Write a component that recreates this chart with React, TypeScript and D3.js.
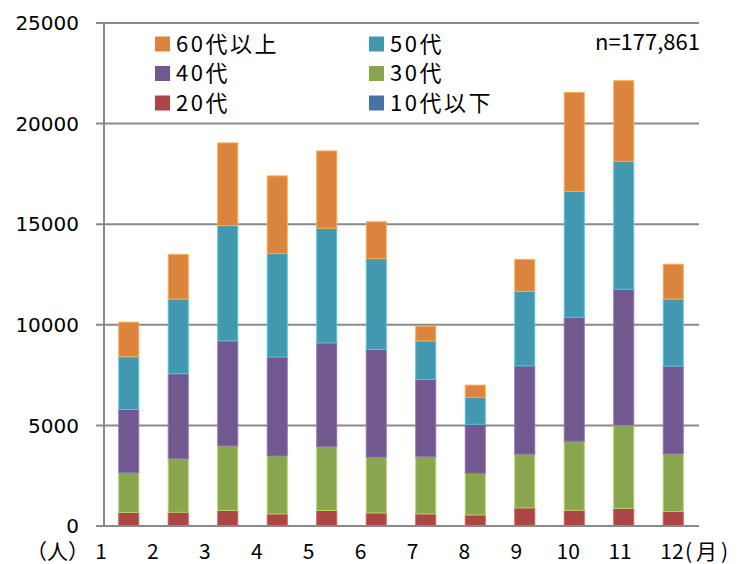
import * as d3 from "d3";
import React, { useEffect, useRef } from "react";

// months on x
const months = ["1", "2", "3", "4", "5", "6", "7", "8", "9", "10", "11", "12"];

// age groups, bottom of stack first
const groups = ["10代以下", "20代", "30代", "40代", "50代", "60代以上"];
const colors = ["#4572A7", "#AA4643", "#89A54E", "#71588F", "#4198AF", "#DB843D"];

const teens = [30, 30, 30, 30, 30, 30, 30, 30, 30, 30, 30, 30];
const twenties = [640, 650, 740, 570, 740, 620, 570, 520, 870, 750, 840, 690];
const thirties = [1990, 2670, 3210, 2880, 3180, 2770, 2850, 2070, 2670, 3430, 4140, 2860];
const forties = [3130, 4220, 5220, 4920, 5150, 5350, 3830, 2440, 4390, 6160, 6760, 4370];
const fifties = [2620, 3710, 5730, 5140, 5700, 4520, 1920, 1330, 3700, 6260, 6360, 3330];
const sixties = [1720, 2220, 4110, 3860, 3840, 1830, 730, 610, 1590, 4920, 4000, 1730];

const yTicks = [0, 5000, 10000, 15000, 20000, 25000];
const legendOrder = ["60代以上", "50代", "40代", "30代", "20代", "10代以下"];

const width = 739;
const height = 564;
const jpFont = "'Noto Sans CJK JP', 'Noto Sans', sans-serif";

const App = () => {
  const svgRef = useRef<SVGSVGElement | null>(null);

  useEffect(() => {
    const svg = d3.select(svgRef.current);
    svg.selectAll("*").remove();

    const series = [teens, twenties, thirties, forties, fifties, sixties];
    const table = months.map((m, i) => {
      const row: any = { month: m };
      groups.forEach((g, k) => (row[g] = series[k][i]));
      return row;
    });

    const xScale = d3.scaleBand().domain(months).range([104, 698]).paddingInner(0.596).paddingOuter(0.298);
    const yScale = d3.scaleLinear().domain([0, 25000]).range([526, 23]);
    const color = d3.scaleOrdinal<string, string>().domain(groups).range(colors);

    const stacked = d3.stack().keys(groups)(table);

    // grid lines
    svg.append("g")
      .selectAll("line")
      .data(yTicks)
      .join("line")
      .attr("x1", 96)
      .attr("x2", 699)
      .attr("y1", d => yScale(d))
      .attr("y2", d => yScale(d))
      .attr("stroke", "#8a8a8a")
      .attr("stroke-width", 2);

    // y axis line
    svg.append("line")
      .attr("x1", 104)
      .attr("x2", 104)
      .attr("y1", yScale(25000))
      .attr("y2", yScale(0))
      .attr("stroke", "#8a8a8a")
      .attr("stroke-width", 2);

    // y tick labels
    svg.append("g")
      .selectAll("text")
      .data(yTicks)
      .join("text")
      .attr("x", 79)
      .attr("y", d => yScale(d))
      .attr("dy", "0.36em")
      .attr("text-anchor", "end")
      .style("font-family", "'DejaVu Sans', sans-serif")
      .style("font-size", "20px")
      .attr("fill", "#000")
      .text(d => d);

    // bars
    svg.append("g")
      .selectAll("g")
      .data(stacked)
      .join("g")
      .attr("fill", d => color(d.key))
      .attr("stroke", d => d3.color(color(d.key))!.brighter(0.7).formatHex())
      .attr("stroke-width", 1)
      .selectAll("rect")
      .data(d => d)
      .join("rect")
      .attr("x", d => xScale(d.data.month as any)!)
      .attr("width", xScale.bandwidth())
      .attr("y", d => yScale(d[1]))
      .attr("height", d => yScale(d[0]) - yScale(d[1]));

    // redraw the bottom line over bars
    svg.append("line")
      .attr("x1", 96)
      .attr("x2", 699)
      .attr("y1", yScale(0))
      .attr("y2", yScale(0))
      .attr("stroke", "#8a8a8a")
      .attr("stroke-width", 2);

    // x labels (typed text under the axis)
    const labelScale = d3.scalePoint().domain(months).range([101, 672]);
    svg.append("g")
      .selectAll("text")
      .data(months)
      .join("text")
      .attr("x", d => labelScale(d)!)
      .attr("y", 559)
      .attr("text-anchor", "middle")
      .style("font-family", jpFont)
      .style("font-size", "21px")
      .text(d => d);

    svg.append("text")
      .attr("x", 89)
      .attr("y", 559)
      .attr("text-anchor", "end")
      .style("font-family", jpFont)
      .style("font-size", "21px")
      .text("（人）");

    svg.append("text")
      .attr("x", labelScale("12")! + 13)
      .attr("y", 559)
      .attr("text-anchor", "start")
      .style("font-family", jpFont)
      .style("font-size", "21px")
      .style("letter-spacing", "4px")
      .text("(月)");

    // legend
    const legend = svg.append("g")
      .selectAll("g")
      .data(legendOrder)
      .join("g")
      .attr("transform", (d, i) => `translate(${i % 2 === 0 ? 155 : 369}, ${44 + Math.floor(i / 2) * 29.5})`);

    legend.append("rect")
      .attr("x", 0)
      .attr("y", -7.5)
      .attr("width", 15)
      .attr("height", 15)
      .attr("fill", d => color(d));

    legend.append("text")
      .attr("x", 21)
      .attr("y", 0)
      .attr("dy", "0.36em")
      .style("font-family", jpFont)
      .style("font-size", "22px")
      .style("letter-spacing", "2.5px")
      .text(d => d);

    svg.append("text")
      .attr("x", 700)
      .attr("y", 50)
      .attr("text-anchor", "end")
      .style("font-family", jpFont)
      .style("font-size", "22px")
      .text("n=177,861");
  });

  return (
    <svg
      ref={svgRef}
      width={width}
      height={height}
      style={{ position: "absolute", left: 0, top: 0, background: "#fff" }}
    />
  );
};

export default App;
